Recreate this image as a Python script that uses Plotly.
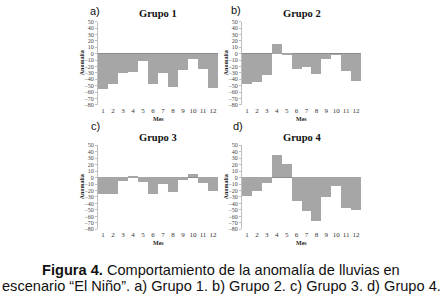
import plotly.graph_objects as go

meses = list(range(1, 13))
grupo1 = [-54, -46, -29, -28, -11, -46, -29, -51, -25, -8, -24, -53]
grupo2 = [-47, -43, -33, 16, 1.5, -24, -20, -31, -7, -1, -26, -42]
grupo3 = [-26, -25, -6, 1.5, -7.5, -25, -10, -22, -4, 5, -8, -21]
grupo4 = [-29, -21, -9, 34, 20, -36, -52, -67, -30, -14, -47, -50]
titulos = ["Grupo 1", "Grupo 2", "Grupo 3", "Grupo 4"]
letras = ["a)", "b)", "c)", "d)"]
yticks = list(range(-80, 51, 10))

W, H = 444, 300
# plot areas in pixels: (x0, x1, ytop, ybottom)
areas = [(98, 218, 19, 104), (242, 361, 19, 104), (98, 218, 145, 231), (242, 361, 145, 231)]
series = [grupo1, grupo2, grupo3, grupo4]

fig = go.Figure()
annotations = []
serif = "Liberation Serif"


def ann(text, px, py, size, family=serif, angle=0, color="#111"):
    return dict(text=text, x=px / W, y=1 - py / H, xref="paper", yref="paper",
                xanchor="center", yanchor="middle", showarrow=False, textangle=angle,
                font=dict(family=family, size=size, color=color))


for i, (vals, (x0, x1, yt, yb)) in enumerate(zip(series, areas)):
    n = i + 1
    xa = "x" if n == 1 else f"x{n}"
    ya = "y" if n == 1 else f"y{n}"
    fig.add_trace(go.Bar(x=meses, y=vals, xaxis=xa, yaxis=ya, width=1,
                         marker=dict(color="#a6a6a6", line=dict(width=0)),
                         showlegend=False, hoverinfo="skip"))
    dx = [x0 / W, x1 / W]
    dy = [1 - yb / H, 1 - yt / H]
    xkey = "xaxis" if n == 1 else f"xaxis{n}"
    ykey = "yaxis" if n == 1 else f"yaxis{n}"
    fig.layout[xkey] = dict(domain=dx, anchor=ya, range=[0.5, 12.5], tickvals=meses,
                            showgrid=False, zeroline=False, showline=False, ticks="",
                            tickfont=dict(family=serif, size=7, color="#333"), ticklabelstandoff=0)
    fig.layout[ykey] = dict(domain=dy, anchor=xa, range=[-80, 50], tickvals=yticks,
                            showgrid=False, zeroline=True, zerolinecolor="#8c8c8c", zerolinewidth=1,
                            showline=True, linecolor="#bfbfbf", linewidth=1, ticks="outside",
                            ticklen=2, tickcolor="#bfbfbf",
                            tickfont=dict(family=serif, size=6, color="#444"))
    cx = (x0 + x1) / 2
    annotations.append(ann("<b>" + titulos[i] + "</b>", cx, yt - 8, 10.5))
    annotations.append(ann("<b>Mes</b>", cx, yb + 14, 6, color="#222"))
    annotations.append(ann("<b>Anomalía</b>", x0 - 16, (yt + yb) / 2, 6, angle=-90, color="#222"))

letter_pos = [(95, 8), (236, 7), (95, 125), (238, 125)]
for l, (lx, ly) in zip(letras, letter_pos):
    annotations.append(ann(l, lx, ly, 11, family="Liberation Sans"))

annotations.append(ann("<b>Figura 4.</b> Comportamiento de la anomalía de lluvias en",
                       221, 272, 14.6, family="Liberation Sans"))
annotations.append(ann("escenario “El Niño”. a) Grupo 1. b) Grupo 2. c) Grupo 3. d) Grupo 4.",
                       221, 289, 14.6, family="Liberation Sans"))

fig.update_layout(width=W, height=H, margin=dict(l=0, r=0, t=0, b=0),
                  paper_bgcolor="white", plot_bgcolor="white", bargap=0,
                  annotations=annotations)
fig.write_html("out.html", config={"displayModeBar": False},
               post_script="document.body.style.margin='0';document.body.style.overflow='hidden';")
